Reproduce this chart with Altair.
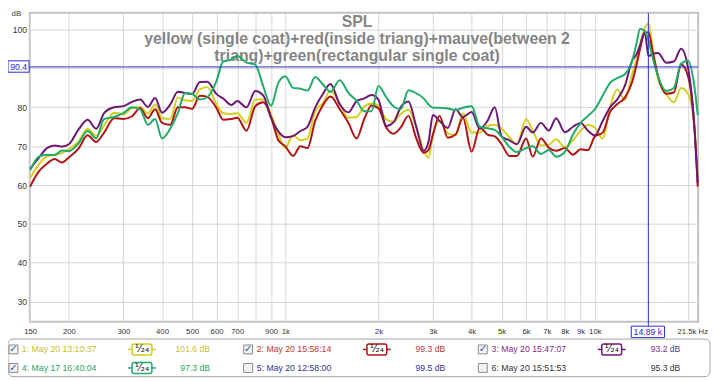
import altair as alt
import pandas as pd

# ---------------- data ----------------
freq = [150, 160, 170, 180, 190, 200, 215, 230, 245, 260,
        280, 300, 320, 340, 360, 380, 400, 425, 450, 475,
        500, 530, 560, 600, 630, 670, 700, 750, 800, 850,
        900, 950, 1000, 1060, 1120, 1180, 1250, 1320, 1400, 1500,
        1600, 1700, 1800, 1900, 2000, 2120, 2240, 2360, 2500, 2650,
        2800, 2900, 3000, 3150, 3350, 3550, 3750, 4000, 4250, 4500,
        4750, 5000, 5300, 5600, 6000, 6300, 6700, 7100, 7500, 8000,
        8500, 9000, 9500, 10000, 10600, 11200, 11800, 12500, 13200, 13600,
        14000, 14500, 14900, 15400, 16000, 17000, 18000, 19000, 20000, 21000, 21500]

yellow_db = [61.8, 65.3, 67.4, 67.8, 68.2, 69.2, 71.2, 74.5, 72.7, 75.3,
             78.6, 78.2, 79.8, 80.0, 78.4, 80.7, 77.2, 77.0, 82.5, 81.8,
             81.6, 84.6, 85.2, 80.8, 78.5, 78.3, 78.5, 76.0, 82.0, 82.0,
             78.2, 73.2, 69.5, 72.8, 71.5, 72.0, 79.0, 81.0, 84.2, 81.0,
             77.3, 77.5, 80.2, 81.0, 80.5, 76.9, 76.3, 78.3, 79.4, 75.0,
             69.0, 67.0, 73.0, 76.6, 73.3, 72.8, 78.5, 73.5, 73.5, 75.2,
             75.5, 74.5, 72.3, 70.5, 77.0, 74.0, 70.2, 70.4, 71.8, 69.7,
             71.5, 74.0, 75.5, 74.8, 72.0, 80.0, 84.6, 82.0, 88.5, 92.0,
             96.2, 100.3, 101.6, 95.0, 87.5, 83.4, 81.3, 85.0, 83.5, 74.0, 63.0]

red_db = [59.6, 63.5, 65.5, 66.7, 65.8, 67.1, 69.4, 72.8, 71.1, 73.5,
          77.2, 77.0, 77.7, 79.8, 77.2, 79.5, 76.0, 75.5, 80.0, 80.0,
          79.6, 83.0, 82.7, 79.8, 76.8, 77.0, 77.3, 74.0, 80.3, 81.3,
          77.5, 71.5, 70.0, 67.5, 70.0, 69.5, 76.5, 80.4, 82.8, 79.5,
          76.0, 72.0, 77.0, 80.5, 79.8, 74.8, 73.2, 74.8, 77.8, 72.0,
          68.3, 69.0, 73.0, 77.8, 72.2, 73.0, 77.3, 68.6, 74.8, 73.0,
          72.5, 70.5, 67.5, 67.5, 72.0, 67.3, 72.0, 69.6, 68.8, 69.5,
          67.8, 69.2, 69.0, 72.5, 73.5, 78.8, 80.8, 82.5, 86.5, 90.5,
          95.0, 99.2, 99.3, 94.0, 88.0, 83.5, 83.8, 91.0, 88.0, 74.0, 59.6]

mauve_db = [64.2, 67.0, 69.5, 70.2, 69.9, 70.5, 74.3, 76.8, 74.5, 78.5,
            80.0, 80.3, 81.4, 82.0, 80.1, 82.4, 78.6, 80.7, 84.0, 83.7,
            83.4, 86.5, 86.6, 83.4, 82.3, 80.6, 81.6, 80.0, 84.2, 83.0,
            77.3, 73.8, 72.3, 72.6, 73.9, 75.0, 80.0, 83.3, 86.0, 80.8,
            78.7, 81.6, 82.3, 83.2, 82.0, 75.2, 76.2, 80.0, 81.5, 75.0,
            68.8, 71.0, 78.0, 76.5, 74.7, 79.5, 77.5, 78.8, 74.5, 76.5,
            80.0, 72.5, 71.5, 70.5, 75.0, 73.5, 76.0, 74.0, 77.2, 73.6,
            75.0, 76.0, 74.0, 72.8, 76.5, 80.0, 82.0, 85.5, 92.0, 93.5,
            96.0, 99.3, 93.2, 93.8, 94.0, 91.5, 91.8, 95.1, 90.2, 74.5, 60.5]

green_db = [63.8, 67.3, 67.8, 67.7, 68.9, 68.7, 70.7, 73.9, 72.0, 77.0,
            77.5, 78.5, 80.0, 79.5, 75.5, 77.0, 72.0, 74.5, 78.5, 83.7,
            83.5, 82.0, 82.6, 86.8, 91.8, 92.3, 93.2, 91.5, 91.0, 85.3,
            80.4, 86.3, 88.0, 85.0, 84.8, 84.3, 87.8, 86.0, 84.0, 87.0,
            83.7, 81.7, 79.0, 79.0, 85.5, 82.6, 80.2, 79.5, 84.4, 83.6,
            82.3, 80.8, 79.9, 79.9, 79.7, 79.3, 79.9, 80.3, 75.0, 74.6,
            74.2, 72.4, 69.8, 68.5, 69.5, 70.0, 68.0, 69.0, 67.3, 68.5,
            73.0, 76.0, 77.8, 79.5, 83.0, 86.3, 87.5, 88.5, 92.0, 96.0,
            100.2, 99.6, 97.3, 92.5, 88.0, 84.2, 85.0, 91.3, 92.0, 85.0, 78.0]

series_ids = ["1", "2", "3", "4"]
line_colors = ["#d3cf1b", "#b11313", "#6d1874", "#20ab69"]

legend_names = ["1: May 20 13:10:37", "2: May 20 15:58:14", "3: May 20 15:47:07",
                "4: May 17 16:40:04", "5: May 20 12:58:00", "6: May 20 15:51:53"]
legend_values = ["101.6 dB", "99.3 dB", "93.2 dB", "97.3 dB", "99.5 dB", "95.3 dB"]
legend_checked = [1, 1, 1, 1, 0, 0]
legend_icon = [1, 1, 1, 1, 0, 0]
legend_text_colors = ["#c6c22e", "#c23434", "#7c2c7e", "#2ea462", "#32328c", "#333333"]
legend_icon_colors = ["#d3cf1b", "#b11313", "#6d1874", "#20ab69", "#32328c", "#333333"]

title_lines = ["SPL",
               "yellow (single coat)+red(inside triang)+mauve(between 2",
               "triang)+green(rectangular single coat)"]

x_tick_values = [150, 200, 300, 400, 500, 600, 700, 800, 900, 1000,
                 2000, 3000, 4000, 5000, 6000, 7000, 8000, 9000, 10000, 20000]
y_tick_values = [30, 40, 50, 60, 70, 80, 90, 100]
cursor_freq = 14890
cursor_db = 90.4
max_freq_label = "21.5k Hz"

# ---------------- layout constants ----------------
W, H = 675, 312
FONT = "Liberation Sans"
BLUE = "#2b2bd3"

recs = []
for sid, vals in zip(series_ids, [yellow_db, red_db, mauve_db, green_db]):
    for f, v in zip(freq, vals):
        recs.append({"freq": f, "db": v, "series": sid})
curves = pd.DataFrame(recs)

x_label_expr = ("(datum.value == 800 || datum.value == 20000) ? '' : "
                "(datum.value >= 1000 ? (datum.value / 1000) + 'k' : datum.value + '')")

x_axis = alt.Axis(values=x_tick_values, labelExpr=x_label_expr, grid=True,
                  gridColor="#d6d6d6", gridWidth=1, ticks=False, domain=False,
                  labelPadding=10, labelBaseline="middle", labelFontSize=7.8,
                  labelFont=FONT, labelColor="#333333", title=None,
                  labelOverlap=False, labelFlush=False, labelBound=False)
y_axis = alt.Axis(values=y_tick_values, labelExpr="datum.value == 90 ? '' : datum.label",
                  grid=True, gridColor="#d6d6d6", gridWidth=1, ticks=False, domain=False,
                  labelPadding=3.3, labelFontSize=8.6, labelFont=FONT,
                  labelColor="#333333", title=None, labelOverlap=False)

x_scale = alt.Scale(type="log", domain=[149.6, 21560], nice=False)
y_scale = alt.Scale(domain=[24.82, 104.33], nice=False, zero=False)

# title text
title_df = pd.DataFrame({"txt": title_lines, "px": [330.5] * 3, "py": [14, 31.7, 48.3]})
titles = alt.Chart(title_df).mark_text(font=FONT, fontSize=16, fontWeight="bold",
                                       color="#858585", align="center",
                                       baseline="alphabetic").encode(
    x=alt.X("px:Q", scale=None), y=alt.Y("py:Q", scale=None), text="txt:N")

lines = alt.Chart(curves).mark_line(strokeWidth=2, interpolate="monotone").encode(
    x=alt.X("freq:Q", scale=x_scale, axis=x_axis),
    y=alt.Y("db:Q", scale=y_scale, axis=y_axis),
    color=alt.Color("series:N", scale=alt.Scale(domain=series_ids, range=line_colors),
                    legend=None),
)

cur_df = pd.DataFrame({"freq": [cursor_freq], "db": [cursor_db]})
hrule = alt.Chart(cur_df).mark_rule(color=BLUE, strokeWidth=1).encode(
    y=alt.Y("db:Q", scale=y_scale, axis=y_axis), x=alt.value(-1), x2=alt.value(W))
vrule = alt.Chart(cur_df).mark_rule(color=BLUE, strokeWidth=1).encode(
    x=alt.X("freq:Q", scale=x_scale, axis=x_axis), y=alt.value(0), y2=alt.value(317))

box_df = pd.DataFrame({
    "x1": [-22, 607.5], "x2": [-0.7, 641], "y1": [48.5, 316.5], "y2": [60, 328],
    "tx": [-11.3, 624.2], "ty": [54.3, 322.5],
    "txt": [f"{cursor_db}", f"{cursor_freq / 1000:.2f} k"]})
cur_boxes = alt.Chart(box_df).mark_rect(fill="white", stroke=BLUE, strokeWidth=1).encode(
    x=alt.X("x1:Q", scale=None), x2="x2:Q", y=alt.Y("y1:Q", scale=None), y2="y2:Q")
cur_texts = alt.Chart(box_df).mark_text(font=FONT, fontSize=8.8, color=BLUE,
                                        align="center", baseline="middle").encode(
    x=alt.X("tx:Q", scale=None), y=alt.Y("ty:Q", scale=None), text="txt:N")

misc_df = pd.DataFrame({"txt": ["dB", max_freq_label], "px": [-13.5, 685], "py": [1.5, 322.3]})
misc1 = alt.Chart(misc_df.iloc[[0]]).mark_text(font=FONT, fontSize=8, color="#444444",
                                                align="center", baseline="middle").encode(
    x=alt.X("px:Q", scale=None), y=alt.Y("py:Q", scale=None), text="txt:N")
misc2 = alt.Chart(misc_df.iloc[[1]]).mark_text(font=FONT, fontSize=7.8, color="#333333",
                                                align="right", baseline="middle").encode(
    x=alt.X("px:Q", scale=None), y=alt.Y("py:Q", scale=None), text="txt:N")

# ---------------- legend ----------------
lrows = []
for i, name in enumerate(legend_names):
    col, row = i % 3, i // 3
    ry = 340 + row * 18.7
    cb = -16.5 + col * 237
    ic = 113.3 + col * 237.2
    lrows.append({
        "name": name, "val": legend_values[i], "checked": legend_checked[i],
        "icon": legend_icon[i], "tcol": legend_text_colors[i], "icol": legend_icon_colors[i],
        "cb1": cb - 4.5, "cb2": cb + 4.5, "cbx": cb, "ry": ry, "ry1": ry - 4.5, "ry2": ry + 4.5,
        "tx": -8 + col * 237.2, "vx": 182 + col * 237.5,
        "ic": ic, "ic1": ic - 10, "ic2": ic + 10, "id1": ic - 14, "id2": ic + 14,
        "iy1": ry - 5.5, "iy2": ry + 5.5, "frac": "\u00b9\u2044\u2082\u2084",
    })
leg = pd.DataFrame(lrows)

leg_box = alt.Chart(pd.DataFrame({"x1": [-22], "x2": [687], "y1": [329.5], "y2": [367.5]})).mark_rect(
    fill="white", stroke="#a2a2a2", strokeWidth=1, cornerRadius=5).encode(
    x=alt.X("x1:Q", scale=None), x2="x2:Q", y=alt.Y("y1:Q", scale=None), y2="y2:Q")

cboxes = alt.Chart(leg).mark_rect(fill="#f2f2f2", stroke="#8a8a8a", strokeWidth=1).encode(
    x=alt.X("cb1:Q", scale=None), x2="cb2:Q", y=alt.Y("ry1:Q", scale=None), y2="ry2:Q")
checks = alt.Chart(leg).transform_filter("datum.checked == 1").mark_text(
    text="\u2713", font="DejaVu Sans", fontSize=10, fontWeight="bold", color="#2f52b8",
    align="center", baseline="middle").encode(
    x=alt.X("cbx:Q", scale=None), y=alt.Y("ry:Q", scale=None))
names = alt.Chart(leg).mark_text(font=FONT, fontSize=8.8, align="left", baseline="middle").encode(
    x=alt.X("tx:Q", scale=None), y=alt.Y("ry:Q", scale=None), text="name:N",
    color=alt.Color("tcol:N", scale=None))
vals = alt.Chart(leg).mark_text(font=FONT, fontSize=8.7, align="right", baseline="middle").encode(
    x=alt.X("vx:Q", scale=None), y=alt.Y("ry:Q", scale=None), text="val:N",
    color=alt.Color("tcol:N", scale=None))
icon_dash = alt.Chart(leg).transform_filter("datum.icon == 1").mark_rule(strokeWidth=1.5).encode(
    x=alt.X("id1:Q", scale=None), x2="id2:Q", y=alt.Y("ry:Q", scale=None),
    color=alt.Color("icol:N", scale=None))
icon_box = alt.Chart(leg).transform_filter("datum.icon == 1").mark_rect(
    fill="white", strokeWidth=1.5, cornerRadius=2).encode(
    x=alt.X("ic1:Q", scale=None), x2="ic2:Q", y=alt.Y("iy1:Q", scale=None), y2="iy2:Q",
    stroke=alt.Stroke("icol:N", scale=None))
icon_txt = alt.Chart(leg).transform_filter("datum.icon == 1").mark_text(
    font="DejaVu Sans", fontSize=10.5, color="#111111", align="center", baseline="middle").encode(
    x=alt.X("ic:Q", scale=None), y=alt.Y("ry:Q", scale=None), text="frac:N")

chart = alt.layer(
    titles, lines, hrule, vrule, cur_boxes, cur_texts, misc1, misc2,
    leg_box, cboxes, checks, names, vals, icon_dash, icon_box, icon_txt
).properties(
    width=W, height=H,
    padding={"left": 22, "top": 3, "right": 13, "bottom": 56},
    autosize=alt.AutoSizeParams(type="none"),
    background="white",
).configure_view(stroke="#c2c2c2", strokeWidth=2)

chart.save("out.html", embed_options={"renderer": "svg", "actions": False})
